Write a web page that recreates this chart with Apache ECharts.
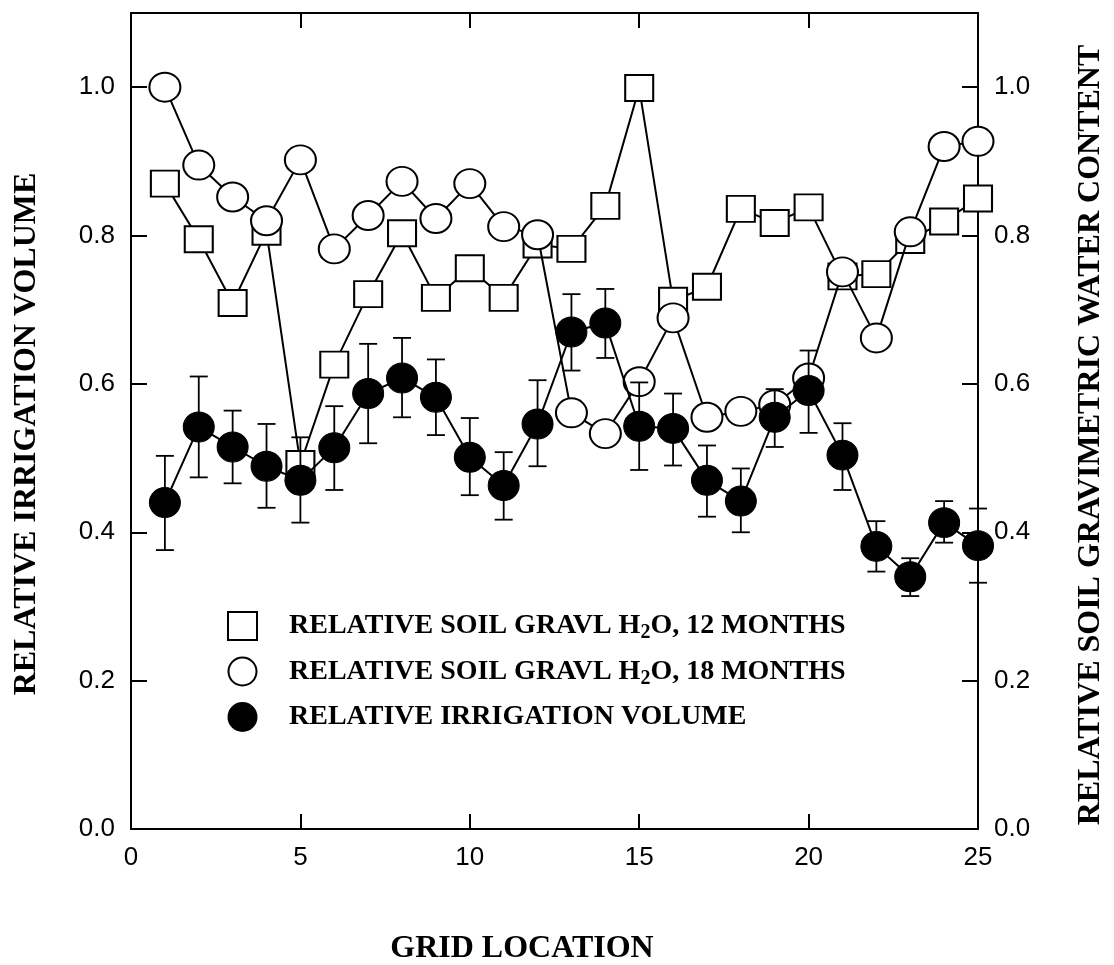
<!DOCTYPE html>
<html>
<head>
<meta charset="utf-8">
<script src="https://cdn.jsdelivr.net/npm/echarts@6/dist/echarts.min.js"></script>
<style>html,body{margin:0;padding:0;background:#fff;}#chart{width:1114px;height:965px;}</style>
</head>
<body>
<div id="chart"></div>
<script>
// ---- data ----
const gridLocation = [1,2,3,4,5,6,7,8,9,10,11,12,13,14,15,16,17,18,19,20,21,22,23,24,25];
const soil12 = [0.870,0.795,0.709,0.805,0.492,0.626,0.721,0.803,0.716,0.756,0.716,0.788,0.782,0.840,0.999,0.712,0.731,0.836,0.817,0.838,0.745,0.748,0.794,0.819,0.850];
const soil18 = [1.000,0.895,0.852,0.820,0.902,0.782,0.827,0.873,0.823,0.870,0.812,0.801,0.561,0.533,0.603,0.689,0.555,0.563,0.572,0.608,0.751,0.662,0.805,0.920,0.927];
const irrigation = [0.440,0.542,0.515,0.489,0.470,0.514,0.587,0.608,0.582,0.501,0.463,0.546,0.670,0.682,0.543,0.540,0.470,0.442,0.555,0.591,0.504,0.381,0.340,0.413,0.382];
const irrigationHigh = [0.503,0.610,0.564,0.546,0.528,0.570,0.654,0.662,0.633,0.554,0.508,0.605,0.721,0.728,0.602,0.587,0.517,0.486,0.593,0.645,0.547,0.415,0.365,0.442,0.432];
const irrigationLow = [0.376,0.474,0.466,0.433,0.413,0.457,0.520,0.555,0.531,0.450,0.417,0.489,0.618,0.635,0.484,0.490,0.421,0.400,0.515,0.534,0.457,0.347,0.314,0.386,0.332];
const xTicks = [0, 25, 5];      // min, max, interval
const yTicks = [0, 1.1, 0.2];   // min, max, interval
const seriesNames = ['RELATIVE SOIL GRAVL H2O, 12 MONTHS','RELATIVE SOIL GRAVL H2O, 18 MONTHS','RELATIVE IRRIGATION VOLUME'];
const leftTitle = 'RELATIVE IRRIGATION VOLUME';
const rightTitle = 'RELATIVE SOIL GRAVIMETRIC WATER CONTENT';
const bottomTitle = 'GRID LOCATION';

const pairs = (ys) => gridLocation.map((x, i) => [x, ys[i]]);
const errData = gridLocation.map((x, i) => [x, irrigationLow[i], irrigationHigh[i]]);

const chart = echarts.init(document.getElementById('chart'), null, {renderer: 'canvas'});
const black = '#000';
const sans = 'Liberation Sans, Arial, sans-serif';
const serif = 'Liberation Serif, Times New Roman, serif';

function xAxisCfg(pos, showLabel) {
  return {
    type: 'value', position: pos, min: xTicks[0], max: xTicks[1], interval: xTicks[2],
    axisLine: {show: true, onZero: false, lineStyle: {color: black, width: 2}},
    axisTick: {show: true, inside: true, length: 15, lineStyle: {color: black, width: 2}},
    axisLabel: {show: showLabel, color: black, fontFamily: sans, fontSize: 26, margin: 16},
    splitLine: {show: false}
  };
}
function yAxisCfg(pos) {
  return {
    type: 'value', position: pos, min: yTicks[0], max: yTicks[1], interval: yTicks[2],
    axisLine: {show: true, onZero: false, lineStyle: {color: black, width: 2}},
    axisTick: {show: true, inside: true, length: 16, lineStyle: {color: black, width: 2}},
    axisLabel: {show: true, color: black, fontFamily: sans, fontSize: 26, margin: 16,
      showMaxLabel: false, formatter: v => v.toFixed(1)},
    splitLine: {show: false}
  };
}

const option = {
  backgroundColor: '#fff',
  animation: false,
  grid: {left: 131, right: 136, top: 13, bottom: 136, containLabel: false},
  xAxis: [xAxisCfg('bottom', true), xAxisCfg('top', false)],
  yAxis: [yAxisCfg('left'), yAxisCfg('right')],
  legend: {
    orient: 'vertical', left: 227, top: 611, padding: 0,
    itemWidth: 29, itemHeight: 28, itemGap: 13.5,
    selectedMode: false,
    data: [{name: seriesNames[0], icon: 'rect'}, {name: seriesNames[1], icon: 'circle'}, {name: seriesNames[2], icon: 'circle'}],
    formatter: name => name.replace('H2O', 'H{sub|2}O'),
    textStyle: {
      color: black, fontFamily: serif, fontWeight: 'bold', fontSize: 28, padding: [0, 0, 0, 27],
      rich: {sub: {fontFamily: serif, fontWeight: 'bold', fontSize: 20, color: black, padding: [14, 0, 0, 0]}}
    }
  },
  series: [
    {
      name: seriesNames[0], type: 'line', xAxisIndex: 0, yAxisIndex: 1,
      data: pairs(soil12), symbol: 'rect', symbolSize: [28, 26],
      lineStyle: {color: black, width: 2},
      itemStyle: {color: '#fff', borderColor: black, borderWidth: 2},
      z: 2
    },
    {
      name: seriesNames[1], type: 'line', xAxisIndex: 0, yAxisIndex: 1,
      data: pairs(soil18), symbol: 'circle', symbolSize: [31, 29],
      lineStyle: {color: black, width: 2},
      itemStyle: {color: '#fff', borderColor: black, borderWidth: 2},
      z: 3
    },
    {
      name: 'errorbars', type: 'custom', xAxisIndex: 0, yAxisIndex: 0,
      data: errData, z: 4,
      renderItem: function (params, api) {
        const x = api.value(0);
        const lo = api.coord([x, api.value(1)]);
        const hi = api.coord([x, api.value(2)]);
        const hw = 9;
        const st = {stroke: black, lineWidth: 1.8};
        return {type: 'group', children: [
          {type: 'line', shape: {x1: hi[0], y1: hi[1], x2: lo[0], y2: lo[1]}, style: st},
          {type: 'line', shape: {x1: hi[0] - hw, y1: hi[1], x2: hi[0] + hw, y2: hi[1]}, style: st},
          {type: 'line', shape: {x1: lo[0] - hw, y1: lo[1], x2: lo[0] + hw, y2: lo[1]}, style: st}
        ]};
      }
    },
    {
      name: seriesNames[2], type: 'line', xAxisIndex: 0, yAxisIndex: 0,
      data: pairs(irrigation), symbol: 'circle', symbolSize: [31, 30],
      lineStyle: {color: black, width: 2},
      itemStyle: {color: black, borderColor: black, borderWidth: 1},
      z: 5
    }
  ],
  graphic: [
    {type: 'text', x: 27, y: 434, rotation: Math.PI / 2,
     style: {text: leftTitle, fill: black, font: 'bold 32px ' + serif, align: 'center', verticalAlign: 'middle'}},
    {type: 'text', x: 1091, y: 435, rotation: Math.PI / 2,
     style: {text: rightTitle, fill: black, font: 'bold 32px ' + serif, align: 'center', verticalAlign: 'middle'}},
    {type: 'text', x: 522, y: 949,
     style: {text: bottomTitle, fill: black, font: 'bold 32px ' + serif, align: 'center', verticalAlign: 'middle'}}
  ]
};
chart.setOption(option);
</script>
</body>
</html>
